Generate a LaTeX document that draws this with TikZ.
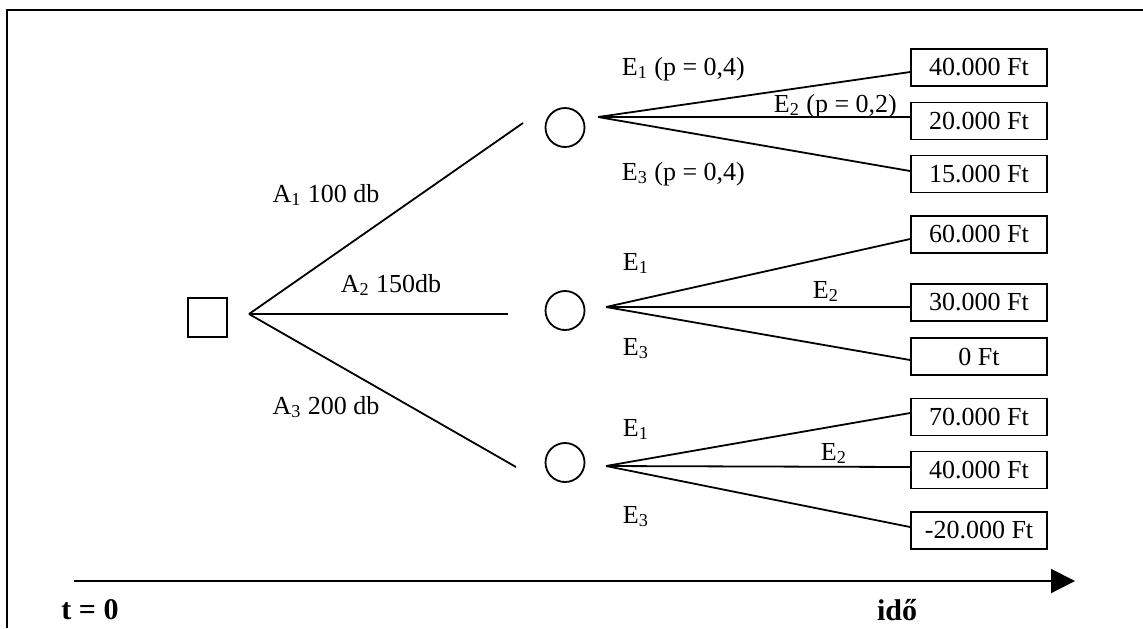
\documentclass[tikz,border=0pt]{standalone}
\usepackage{fontspec}
\setmainfont{Liberation Serif}
\usetikzlibrary{arrows.meta}
\begin{document}
\begin{tikzpicture}[x=0.5pt,y=-0.5pt,
  font=\fontsize{13}{15}\selectfont, line width=0.9pt,
  decision/.style={draw, rectangle, minimum size=19.5pt, inner sep=0pt},
  chance/.style={draw, circle, minimum size=19.5pt, inner sep=0pt},
  payoff/.style={draw, rectangle, minimum width=68pt, minimum height=18.5pt, inner sep=0pt},
  branch/.style={line width=0.9pt},
  lbl/.style={anchor=base west, inner sep=0pt},
  albl/.style={anchor=center, inner sep=0pt},
  axislbl/.style={font=\fontsize{15}{17}\selectfont\bfseries, anchor=center, inner sep=0pt}]
\useasboundingbox (0,0) rectangle (1143,628);
% frame
\draw[line width=1.1pt] (7,628) -- (7,10) -- (1143,10);

% decision node and alternatives
\node[decision] (D) at (207.5,317.5) {};
\coordinate (d0) at (249,314);
\coordinate (a1) at (523,123);
\coordinate (a2) at (508,314);
\coordinate (a3) at (516,467);
\draw[branch] (d0) -- (a1);
\draw[branch] (d0) -- (a2);
\draw[branch] (d0) -- (a3);
\node[albl] (la1) at (326,195) {A\textsubscript{1} 100 db};
\node[albl] (la2) at (391,285) {A\textsubscript{2} 150db};
\node[albl] (la3) at (326,407) {A\textsubscript{3} 200 db};

% chance nodes
\node[chance] (C1) at (565,127.5) {};
\node[chance] (C2) at (565,310.5) {};
\node[chance] (C3) at (565,462.5) {};
\coordinate (c1) at (598,117);
\coordinate (c2) at (606,307);
\coordinate (c3) at (606,466);

% payoffs
\node[payoff] (P1) at (979,67.5) {40.000 Ft};
\node[payoff] (P2) at (979,121) {20.000 Ft};
\node[payoff] (P3) at (979,174) {15.000 Ft};
\node[payoff] (P4) at (979,234.5) {60.000 Ft};
\node[payoff] (P5) at (979,302.5) {30.000 Ft};
\node[payoff] (P6) at (979,356.5) {0 Ft};
\node[payoff] (P7) at (979,417) {70.000 Ft};
\node[payoff] (P8) at (979,470) {40.000 Ft};
\node[payoff] (P9) at (979,530.5) {-20.000 Ft};

\draw[branch] (c1) -- ([yshift=-2.25pt]P1.west);
\draw[branch] (c1) -- ([yshift=2pt]P2.west);
\draw[branch] (c1) -- ([yshift=1.5pt]P3.west);
\draw[branch] (c2) -- ([yshift=-2.25pt]P4.west);
\draw[branch] (c2) -- ([yshift=-2.25pt]P5.west);
\draw[branch] (c2) -- ([yshift=-1.75pt]P6.west);
\draw[branch] (c3) -- ([yshift=2pt]P7.west);
\draw[branch] (c3) -- ([yshift=1.5pt]P8.west);
\draw[branch] (c3) -- ([yshift=1.75pt]P9.west);

% event labels
\node[lbl] (e11) at (621,75) {E\textsubscript{1} (p = 0,4)};
\node[lbl] (e12) at (773,112) {E\textsubscript{2} (p = 0,2)};
\node[lbl] (e13) at (621,180) {E\textsubscript{3} (p = 0,4)};
\node[lbl] (e21) at (622,270) {E\textsubscript{1}};
\node[lbl] (e22) at (812,298) {E\textsubscript{2}};
\node[lbl] (e23) at (622,355) {E\textsubscript{3}};
\node[lbl] (e31) at (622,436) {E\textsubscript{1}};
\node[lbl] (e32) at (820,460) {E\textsubscript{2}};
\node[lbl] (e33) at (622,523) {E\textsubscript{3}};

% time axis
\coordinate (t0) at (74,581);
\coordinate (t1) at (1075,581);
\draw[line width=1pt, -{Triangle[length=12pt,width=12pt]}] (t0) -- (t1);
\node[axislbl] (tz) at (90,610) {t = 0};
\node[axislbl] (ido) at (897,610) {idő};
\end{tikzpicture}
\end{document}
